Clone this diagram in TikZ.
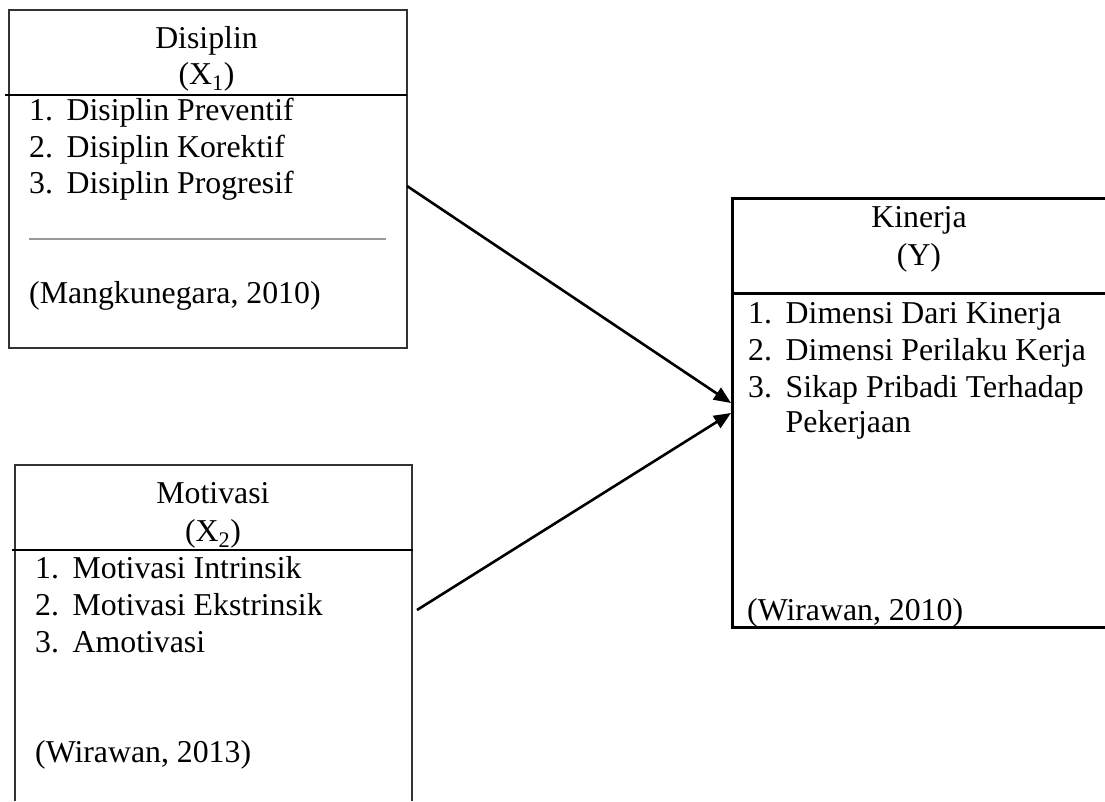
\documentclass[tikz,border=0pt]{standalone}
\usepackage{fontspec}
\setmainfont{Liberation Serif}
\usetikzlibrary{arrows.meta}
\newcommand\itm[2]{\makebox[37.5pt][l]{#1}#2}
\begin{document}
\begin{tikzpicture}[x=1pt,y=-1pt,
  txt/.style={inner sep=0pt, anchor=base west, font=\fontsize{31.8}{38}\selectfont},
  ttl/.style={inner sep=0pt, anchor=base, font=\fontsize{31.8}{38}\selectfont},
  boxline/.style={line width=1.6pt, draw=black!80},
  kline/.style={line width=3pt, draw=black},
  divline/.style={line width=2.2pt, draw=black},
  conn/.style={line width=2.6pt, draw=black, -{Triangle[length=17pt,width=14pt]}},
]
\useasboundingbox (0,0) rectangle (1105,801);

% Box X1
\node[boxline, draw, inner sep=0pt, minimum width=398pt, minimum height=338pt, anchor=north west] (b1) at (8,9) {};
\draw[divline] (5,95) -- (407,95);
\draw[line width=1.5pt, draw=black!40] (29,239) -- (386,239);
\node[ttl] (b1t) at (206.5,48) {Disiplin};
\node[ttl] (b1x) at (206.5,84) {(X\textsubscript{1})};
\node[txt] (b1i1) at (29,120) {\itm{1.}{Disiplin Preventif}};
\node[txt] (b1i2) at (29,157) {\itm{2.}{Disiplin Korektif}};
\node[txt] (b1i3) at (29,193) {\itm{3.}{Disiplin Progresif}};
\node[txt] (b1r) at (29,303) {(Mangkunegara, 2010)};

% Box X2 (open at bottom)
\draw[boxline] (15,801) -- (15,465) -- (412,465) -- (412,801);
\draw[divline] (12,550) -- (413,550);
\node[ttl] (b2t) at (213,503) {Motivasi};
\node[ttl] (b2x) at (213,541) {(X\textsubscript{2})};
\node[txt] (b2i1) at (35,578) {\itm{1.}{Motivasi Intrinsik}};
\node[txt] (b2i2) at (35,615) {\itm{2.}{Motivasi Ekstrinsik}};
\node[txt] (b2i3) at (35,652) {\itm{3.}{Amotivasi}};
\node[txt] (b2r) at (35,762) {(Wirawan, 2013)};

% Box Y (open at right)
\draw[kline] (1105,198) -- (732,198) -- (732,627) -- (1105,627);
\draw[kline] (732,293) -- (1105,293);
\node[ttl] (b3t) at (919,227) {Kinerja};
\node[ttl] (b3x) at (919,265) {(Y)};
\node[txt] (b3i1) at (748,323) {\itm{1.}{Dimensi Dari Kinerja}};
\node[txt] (b3i2) at (748,360) {\itm{2.}{Dimensi Perilaku Kerja}};
\node[txt] (b3i3) at (748,397) {\itm{3.}{Sikap Pribadi Terhadap}};
\node[txt] (b3i4) at (748,432) {\itm{}{Pekerjaan}};
\node[txt] (b3r) at (747,620) {(Wirawan, 2010)};

% connectors
\coordinate (b1out) at (407,186);
\coordinate (b2out) at (417,610);
\coordinate (yin1) at (731,403);
\coordinate (yin2) at (731,413);
\draw[conn] (b1out) -- (yin1);
\draw[conn] (b2out) -- (yin2);
\end{tikzpicture}
\end{document}
